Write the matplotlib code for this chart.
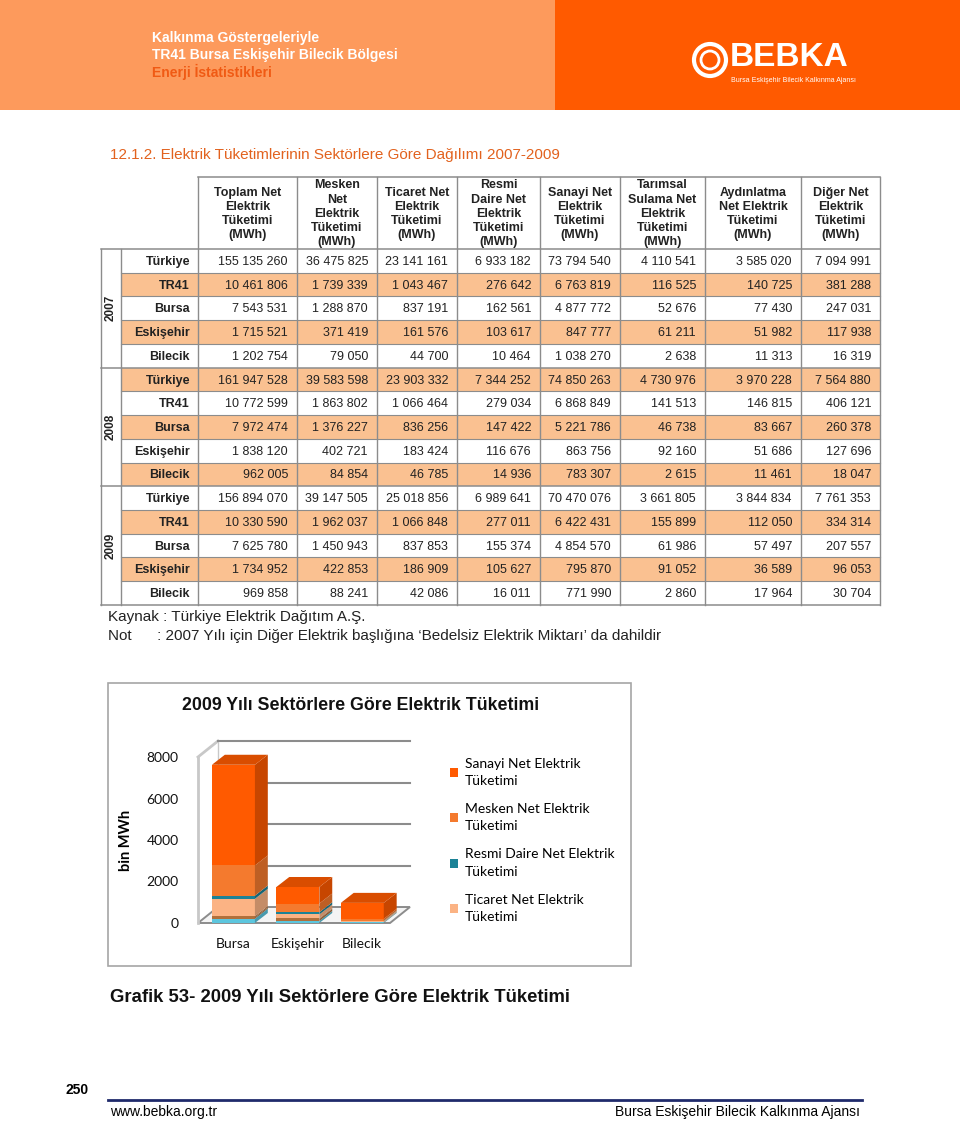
import matplotlib
matplotlib.use("Agg")
import matplotlib.pyplot as plt
from matplotlib.patches import Rectangle, Polygon, Circle

plt.rcParams['font.family'] = ['Liberation Sans', 'DejaVu Sans']

# ---- table data (MWh) ----
years = ["2007", "2008", "2009"]
regions = ["Türkiye", "TR41", "Bursa", "Eskişehir", "Bilecik"]
columns = ["Toplam Net\nElektrik\nTüketimi\n(MWh)",
           "Mesken\nNet\nElektrik\nTüketimi\n(MWh)",
           "Ticaret Net\nElektrik\nTüketimi\n(MWh)",
           "Resmi\nDaire Net\nElektrik\nTüketimi\n(MWh)",
           "Sanayi Net\nElektrik\nTüketimi\n(MWh)",
           "Tarımsal\nSulama Net\nElektrik\nTüketimi\n(MWh)",
           "Aydınlatma\nNet Elektrik\nTüketimi\n(MWh)",
           "Diğer Net\nElektrik\nTüketimi\n(MWh)"]

values_2007 = [
    [155135260, 36475825, 23141161, 6933182, 73794540, 4110541, 3585020, 7094991],
    [10461806, 1739339, 1043467, 276642, 6763819, 116525, 140725, 381288],
    [7543531, 1288870, 837191, 162561, 4877772, 52676, 77430, 247031],
    [1715521, 371419, 161576, 103617, 847777, 61211, 51982, 117938],
    [1202754, 79050, 44700, 10464, 1038270, 2638, 11313, 16319],
]
values_2008 = [
    [161947528, 39583598, 23903332, 7344252, 74850263, 4730976, 3970228, 7564880],
    [10772599, 1863802, 1066464, 279034, 6868849, 141513, 146815, 406121],
    [7972474, 1376227, 836256, 147422, 5221786, 46738, 83667, 260378],
    [1838120, 402721, 183424, 116676, 863756, 92160, 51686, 127696],
    [962005, 84854, 46785, 14936, 783307, 2615, 11461, 18047],
]
values_2009 = [
    [156894070, 39147505, 25018856, 6989641, 70470076, 3661805, 3844834, 7761353],
    [10330590, 1962037, 1066848, 277011, 6422431, 155899, 112050, 334314],
    [7625780, 1450943, 837853, 155374, 4854570, 61986, 57497, 207557],
    [1734952, 422853, 186909, 105627, 795870, 91052, 36589, 96053],
    [969858, 88241, 42086, 16011, 771990, 2860, 17964, 30704],
]
all_values = [values_2007, values_2008, values_2009]

# ---- chart data: 2009, bin MWh ----
chart_cats = ["Bursa", "Eskişehir", "Bilecik"]
chart_rows = [2, 3, 4]
# bottom -> top stacking (column index, colour)
stack_cols = [7, 5, 6, 2, 3, 1, 4]
stack_colors = ["#5CC6DE", "#B0703C", "#B0703C", "#FBB384", "#1B8296", "#F47A2E", "#FF5A00"]
legend_order = [4, 1, 3, 2]
legend_labels = {4: "Sanayi Net Elektrik\nTüketimi", 1: "Mesken Net Elektrik\nTüketimi",
                 3: "Resmi Daire Net Elektrik\nTüketimi", 2: "Ticaret Net Elektrik\nTüketimi"}

W, H = 960, 1121
fig = plt.figure(figsize=(W / 100, H / 100), dpi=100)
pg = fig.add_axes([0, 0, 1, 1])
pg.set_xlim(0, W)
pg.set_ylim(H, 0)
pg.axis("off")

# ---- header banner ----
pg.add_patch(Rectangle((0, 0), 555, 110, color="#FD9A5C", lw=0))
pg.add_patch(Rectangle((555, 0), W - 555, 110, color="#FF5A00", lw=0))
pg.text(152, 38, "Kalkınma Göstergeleriyle", color="white", fontsize=10, fontweight="bold",
        va="center")
pg.text(152, 55, "TR41 Bursa Eskişehir Bilecik Bölgesi", color="white", fontsize=10,
        fontweight="bold", va="center")
pg.text(152, 72, "Enerji İstatistikleri", color="#F05A14", fontsize=10, fontweight="bold",
        va="center")
pg.add_patch(Circle((710, 60), 16, fill=False, ec="white", lw=3))
pg.add_patch(Circle((710, 60), 9, fill=False, ec="white", lw=2))
pg.text(730, 58, "BEBKA", color="white", fontsize=24, fontweight="bold", va="center")
pg.text(731, 80, "Bursa Eskişehir Bilecik Kalkınma Ajansı", color="white", fontsize=5,
        va="center")

# ---- section title ----
pg.text(110, 155, "12.1.2. Elektrik Tüketimlerinin Sektörlere Göre Dağılımı 2007-2009",
        color="#E2621E", fontsize=11, va="center")

# ---- table ----
col_x = [198, 297, 377, 457, 540, 620, 705, 801, 880]
left, year_x = 101, 121
head_top, head_bot = 177, 249
row_h = 23.73
grid_c = "#8C8C8C"
shade = "#FAC191"

n_rows = len(years) * len(regions)
for i in range(n_rows):
    y0 = head_bot + i * row_h
    if i % 2 == 1:
        pg.add_patch(Rectangle((year_x, y0), col_x[-1] - year_x, row_h, color=shade, lw=0))

for i in range(n_rows + 1):
    y0 = head_bot + i * row_h
    x0 = left if i % len(regions) == 0 else year_x
    pg.plot([x0, col_x[-1]], [y0, y0], color=grid_c, lw=1.1 if x0 == left else 0.8)
pg.plot([col_x[0], col_x[-1]], [head_top, head_top], color=grid_c, lw=1.1)
for x in col_x:
    pg.plot([x, x], [head_top, head_bot + n_rows * row_h], color=grid_c, lw=1)
pg.plot([left, left], [head_bot, head_bot + n_rows * row_h], color=grid_c, lw=1)
pg.plot([year_x, year_x], [head_bot, head_bot + n_rows * row_h], color=grid_c, lw=1)

for j, name in enumerate(columns):
    pg.text((col_x[j] + col_x[j + 1]) / 2, (head_top + head_bot) / 2 + 1, name,
            ha="center", va="center", fontsize=9, fontweight="bold", linespacing=1.25,
            color="#222222")

for k, yr in enumerate(years):
    yc = head_bot + (k * len(regions) + 2.5) * row_h
    pg.text(111, yc, yr, rotation=90, ha="center", va="center", fontsize=8.5,
            fontweight="bold", color="#222222")
    for r, reg in enumerate(regions):
        yc = head_bot + (k * len(regions) + r + 0.5) * row_h + 1
        pg.text(190, yc, reg, ha="right", va="center", fontsize=9, fontweight="bold",
                color="#222222")
        for j, v in enumerate(all_values[k][r]):
            s = f"{v:,}".replace(",", " ")
            pg.text(col_x[j + 1] - 9, yc, s, ha="right", va="center", fontsize=9,
                    color="#222222")

pg.text(108, 617, "Kaynak : Türkiye Elektrik Dağıtım A.Ş.", fontsize=11, va="center",
        color="#222222")
pg.text(108, 636, "Not      : 2007 Yılı için Diğer Elektrik başlığına ‘Bedelsiz Elektrik Miktarı’ da dahildir",
        fontsize=11, va="center", color="#222222")

# ---- chart frame ----
pg.add_patch(Rectangle((108, 683), 523, 283, fill=False, ec="#A6A6A6", lw=1.2))
pg.text(361, 705, "2009 Yılı Sektörlere Göre Elektrik Tüketimi", ha="center", va="center",
        fontsize=12.8, fontweight="bold", color="#111111")

ax = fig.add_axes([198 / W, 1 - 923 / H, (390 - 198) / W, (923 - 757) / H])
ax.set_xlim(-0.55, 2.43)
ax.set_ylim(0, 8000)
for sp in ax.spines.values():
    sp.set_visible(False)
ax.patch.set_alpha(0)

wdx, wdy = 0.31, 771
bdx, bdy = 0.2, 482
x_l, x_r = -0.55, 2.43
line_c = "#8C8C8C"

# floor and walls
ax.add_patch(Polygon([(x_l, 0), (x_r, 0), (x_r + wdx, wdy), (x_l + wdx, wdy)],
                     closed=True, fc="#F4F4F4", ec=line_c, lw=1.4, clip_on=False, zorder=1))
ax.plot([x_l, x_l], [0, 8000], color="#C8C8C8", lw=2, clip_on=False, zorder=1)
ax.plot([x_l, x_l + wdx], [8000, 8000 + wdy], color="#C8C8C8", lw=2, clip_on=False, zorder=1)
ax.plot([x_l + wdx, x_l + wdx], [wdy, 8000 + wdy], color="#C8C8C8", lw=1, clip_on=False, zorder=1)
for v in [2000, 4000, 6000, 8000]:
    ax.plot([x_l + wdx, x_r + wdx], [v + wdy, v + wdy], color=line_c, lw=1.5,
            clip_on=False, zorder=1)

bw = 0.667
xs = list(range(len(chart_cats)))


def darker(c, f=0.8):
    r, g, b = matplotlib.colors.to_rgb(c)
    return (r * f, g * f, b * f)


handles = {}
for i, row in enumerate(chart_rows):
    bottom = 0.0
    vals = [values_2009[row][c] / 1000 for c in stack_cols]
    for s, (c, v) in enumerate(zip(stack_cols, vals)):
        col = stack_colors[s]
        bars = ax.bar(xs[i], v, bottom=bottom, width=bw, color=col, lw=0, zorder=3)
        handles.setdefault(c, bars)
        xr = xs[i] + bw / 2
        ax.add_patch(Polygon([(xr, bottom), (xr + bdx, bottom + bdy), (xr + bdx, bottom + v + bdy),
                              (xr, bottom + v)], closed=True, fc=darker(col, 0.78), lw=0,
                             clip_on=False, zorder=3))
        bottom += v
    xl = xs[i] - bw / 2
    ax.add_patch(Polygon([(xl, bottom), (xl + bw, bottom), (xl + bw + bdx, bottom + bdy),
                          (xl + bdx, bottom + bdy)], closed=True, fc=darker(stack_colors[-1], 0.85),
                         lw=0, clip_on=False, zorder=3))

ax.set_yticks([0, 2000, 4000, 6000, 8000])
ax.set_xticks(xs)
ax.set_xticklabels(chart_cats)
ax.tick_params(length=0, labelsize=10, pad=11)
ax.tick_params(axis="y", pad=14)
for lab in ax.get_xticklabels() + ax.get_yticklabels():
    lab.set_family(['Lato', 'DejaVu Sans'])
    lab.set_color("#111111")
ax.set_ylabel("bin MWh", fontsize=10.5, fontweight="bold", family=['Lato', 'DejaVu Sans'],
              labelpad=10)

leg = ax.legend([handles[c] for c in legend_order], [legend_labels[c] for c in legend_order],
                loc="upper left", bbox_to_anchor=(437 / W, 1 - 745 / H),
                bbox_transform=fig.transFigure, frameon=False, handlelength=0.6,
                handleheight=0.6, handletextpad=0.5, labelspacing=1.15,
                prop={'family': ['Lato', 'DejaVu Sans'], 'size': 10})
for t in leg.get_texts():
    t.set_linespacing(1.55)

# ---- caption and footer ----
pg.text(110, 997, "Grafik 53- 2009 Yılı Sektörlere Göre Elektrik Tüketimi", fontsize=13.3,
        fontweight="bold", va="center", color="#111111")
pg.text(66, 1090, "250", fontsize=10, fontweight="bold", va="center")
pg.plot([108, 862], [1100, 1100], color="#1F2A6B", lw=2)
pg.text(110, 1112, "www.bebka.org.tr", fontsize=10, va="center")
pg.text(860, 1112, "Bursa Eskişehir Bilecik Kalkınma Ajansı", fontsize=10,
        va="center", ha="right")

fig.savefig("out.png", dpi=100)
